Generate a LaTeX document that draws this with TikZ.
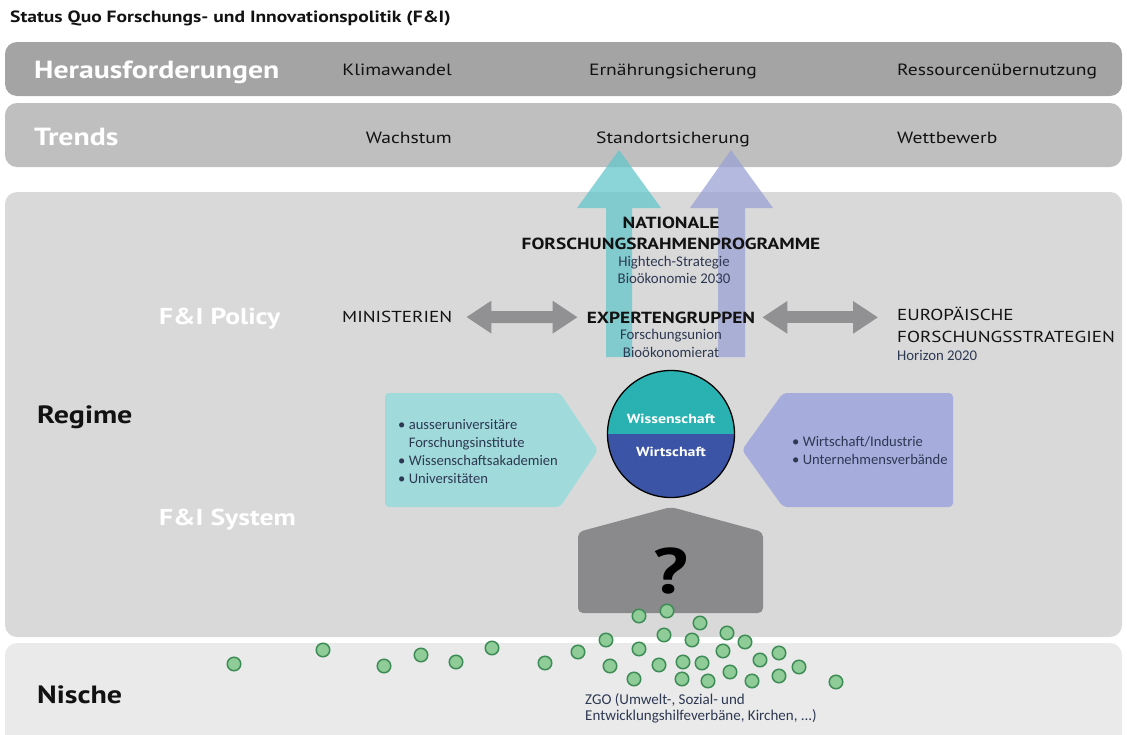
\documentclass[tikz,border=0pt]{standalone}
\usepackage{fontspec}
\setmainfont{PT Sans}[FakeStretch=1.2]
\newfontfamily\calfont{Carlito}
\usepackage{tikz}
\usetikzlibrary{arrows.meta, positioning}
\definecolor{bandDark}{RGB}{164,164,164}
\definecolor{bandLight}{RGB}{191,191,191}
\definecolor{regimeGray}{RGB}{217,217,217}
\definecolor{nischeGray}{RGB}{234,234,234}
\definecolor{arrowGray}{RGB}{145,145,147}
\definecolor{houseGray}{RGB}{138,138,140}
\definecolor{tealArrow}{RGB}{100,198,202}
\definecolor{lilacArrow}{RGB}{153,161,212}
\definecolor{tealBox}{RGB}{161,218,219}
\definecolor{lilacBox}{RGB}{166,173,220}
\definecolor{tealCore}{RGB}{42,178,178}
\definecolor{blueCore}{RGB}{59,84,165}
\definecolor{dotFill}{RGB}{143,204,152}
\definecolor{dotEdge}{RGB}{62,140,85}
\definecolor{inkText}{RGB}{18,18,18}
\definecolor{slateText}{RGB}{45,56,82}
\newcommand{\fsz}[2]{\fontsize{#1}{#2}\selectfont}

\begin{document}
\begin{tikzpicture}[
            x=1pt, y=-1pt,
            >={Triangle[length=25pt, width=31pt]},
                textbase/.style = {inner sep=0pt, anchor=base, text=inkText},
                headline/.style = {textbase, anchor=base west, font=\fsz{24.8}{28}\bfseries, text=white},
                bandtext/.style = {textbase, font=\fsz{16.3}{19}},
                bigcaps/.style = {textbase, font=\fsz{16.1}{21}\bfseries, align=center},
                plaincaps/.style = {textbase, font=\fsz{15.9}{22}, align=left},
                subtext/.style = {textbase, font=\calfont\fsz{14.8}{17.5}, text=slateText, align=center},
                bullettext/.style = {textbase, anchor=base west, font=\calfont\fsz{14.6}{17.7}, text=slateText, align=left},
                sidelabel/.style = {textbase, anchor=base west, font=\fsz{23}{27}\bfseries, text=white},
                levellabel/.style = {textbase, anchor=base west, font=\fsz{25}{29}\bfseries},
                corelabel/.style = {textbase, font=\fsz{13.2}{17}\bfseries, text=white},
                band/.style = {rounded corners=12pt},
                dblarrow/.style = {arrowGray, line width=12pt, <->},
                zgodot/.style = {circle, draw=dotEdge, fill=dotFill, line width=1.5pt, minimum size=13.5pt, inner sep=0pt},
            ]
            \useasboundingbox (0,0) rectangle (1127,734);
            \fill[band, bandDark] (5,42) rectangle (1122,96);
            \fill[band, bandLight] (5,103) rectangle (1122,167);
            \fill[band, regimeGray] (5,192) rectangle (1122,637);
            \fill[band, nischeGray] (5,643) rectangle (1122,770);
            \node (Title) [textbase, anchor=base west, font=\fsz{16.3}{20}\bfseries] at (10,22.5) {
                Status Quo Forschungs- und Innovationspolitik (F\&I)
            };
            \node (Herausforderungen) [headline] at (34,78.5) {Herausforderungen};
            \node (Klimawandel) [bandtext, anchor=base east] at (452,75.5) {Klimawandel};
            \node (Ernaehrung) [bandtext] at (673,75.5) {Ernährungsicherung};
            \node (Ressourcen) [bandtext, anchor=base west] at (897,75.5) {Ressourcenübernutzung};
            \node (Trends) [headline] at (34,145.5) {Trends};
            \node (Wachstum) [bandtext, anchor=base east] at (452,143) {Wachstum};
            \node (Standort) [bandtext] at (673,143) {Standortsicherung};
            \node (Wettbewerb) [bandtext, anchor=base west] at (897,143) {Wettbewerb};
            \fill[tealArrow, fill opacity=0.75] (606,357) -- (606,208) -- (577,208) -- (619,150)
                -- (661,208) -- (632,208) -- (632,357) -- cycle;
            \fill[lilacArrow, fill opacity=0.75] (718,357) -- (718,208) -- (690,208) -- (731,150)
                -- (773,208) -- (745,208) -- (745,357) -- cycle;
            \node (NatProg) [bigcaps] at (671,249) {
                NATIONALE\\FORSCHUNGSRAHMENPROGRAMME
            };
            \node (NatProgSub) [subtext] at (674,283.5) {
                Hightech-Strategie\\Bioökonomie 2030
            };
            \node (FIPolicy) [sidelabel] at (159,324) {F\&I Policy};
            \node (Ministerien) [plaincaps, anchor=base west] at (342,322.5) {MINISTERIEN};
            \node (Expertengruppen) [bigcaps] at (671,323) {EXPERTENGRUPPEN};
            \node (ExpertenSub) [subtext] at (671,357) {
                Forschungsunion\\Bioökonomierat
            };
            \node (Europa) [plaincaps, anchor=base west] at (897,342.5) {
                EUROPÄISCHE\\FORSCHUNGSSTRATEGIEN
            };
            \node (Horizon) [subtext, anchor=base west] at (897,360.5) {Horizon 2020};
            \draw[dblarrow, shorten <=14pt, shorten >=9pt] (Ministerien) -- (Expertengruppen);
            \draw[dblarrow, shorten <=7pt, shorten >=19pt] (Expertengruppen) -- (Expertengruppen -| Europa.west);
            \node (Regime) [levellabel] at (37,423.5) {Regime};
            \fill[tealBox, rounded corners=4pt] (385,393) -- (560,393) -- (598,450) -- (560,507)
                -- (385,507) -- cycle;
            \fill[lilacBox, rounded corners=4pt] (783,393) -- (953,393) -- (953,507) -- (783,507)
                -- (742,450) -- cycle;
            \node (Forschung) [bullettext] at (398,483) {
                \textbullet\ ausseruniversitäre\\
                \phantom{\textbullet\ }Forschungsinstitute\\
                \textbullet\ Wissenschaftsakademien\\
                \textbullet\ Universitäten
            };
            \node (Industrie) [bullettext] at (792,464.5) {
                \textbullet\ Wirtschaft/Industrie\\
                \textbullet\ Unternehmensverbände
            };
            \begin{scope}
                \clip (671,434) circle[radius=63.5];
                \fill[tealCore] (600,360) rectangle (750,434);
                \fill[blueCore] (600,434) rectangle (750,510);
            \end{scope}
            \node (Core) [circle, draw=black, line width=1.3pt, minimum size=127pt, inner sep=0pt] at (671,434) {};
            \node (Wissenschaft) [corelabel] at (671,423) {Wissenschaft};
            \node (Wirtschaft) [corelabel] at (671,456) {Wirtschaft};
            \node (FISystem) [sidelabel] at (159,525) {F\&I System};
            \fill[houseGray, rounded corners=5pt] (578,532) -- (671,507) -- (763,532) -- (763,613)
                -- (578,613) -- cycle;
            \node (Question) [textbase, font=\fsz{64}{70}\bfseries, text=black] at (671,593) {?};
            \node (Nische) [levellabel] at (37,703.5) {Nische};
            \foreach \dx/\dy [count=\i] in {234/664, 323/650, 384/666, 421/655, 456/662, 492/648,
                545/663, 578/652, 606/640, 610/666, 634/679, 639/616, 639/649, 659/665, 664/635,
                667/611, 682/679, 683/662, 692/640, 700/623, 702/663, 708/681, 723/651, 727/633,
                730/672, 745/642, 752/681, 760/660, 779/653, 779/676, 799/667, 836/682}
                \node (Dot\i) [zgodot] at (\dx,\dy) {};
            \node (ZGO) [subtext, anchor=base west, align=left, font=\calfont\fsz{15}{16.5}] at (585,720.5) {
                ZGO (Umwelt-, Sozial- und\\Entwicklungshilfeverbäne, Kirchen, ...)
            };
        \end{tikzpicture}
\end{document}
